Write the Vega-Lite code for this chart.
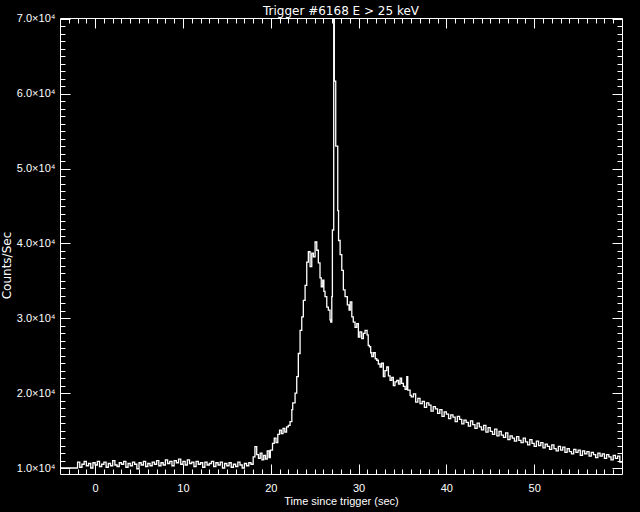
{
"$schema": "https://vega.github.io/schema/vega-lite/v6.json",
"width": 562, "height": 456,
"autosize": {"type": "none"},
"padding": {"left": 60, "top": 18, "right": 18, "bottom": 38},
"background": "black",
"title": {"text": "Trigger #6168 E > 25 keV", "color": "white", "font": "DejaVu Sans", "fontSize": 12, "fontWeight": "normal", "anchor": "middle", "offset": 4, "dy": 9},
"config": {"view": {"stroke": "white", "strokeWidth": 1}, "axis": {"grid": false, "domain": false, "tickColor": "white", "labelColor": "white", "titleColor": "white", "labelFont": "Liberation Sans", "titleFont": "Liberation Sans", "labelFontSize": 11, "titleFontSize": 11, "titleFontWeight": "normal", "tickWidth": 1}},
"data": {"values": [
{"t":-4,"c":10000},{"t":-2.0,"c":10800},{"t":-1.75,"c":10100},{"t":-1.5,"c":10500},{"t":-1.25,"c":10900},{"t":-1.0,"c":10300},{"t":-0.75,"c":10600},{"t":-0.5,"c":10000},{"t":-0.25,"c":10700},
{"t":0,"c":10400},{"t":0.25,"c":10900},{"t":0.5,"c":10200},{"t":0.75,"c":10500},{"t":1.0,"c":10800},{"t":1.25,"c":10100},{"t":1.5,"c":10600},{"t":1.75,"c":10300},
{"t":2.0,"c":11000},{"t":2.25,"c":10400},{"t":2.5,"c":10200},{"t":2.75,"c":10700},{"t":3.0,"c":10500},{"t":3.25,"c":10900},{"t":3.5,"c":10100},{"t":3.75,"c":10600},
{"t":4.0,"c":10300},{"t":4.25,"c":10800},{"t":4.5,"c":10500},{"t":4.75,"c":9900},{"t":5.0,"c":10700},{"t":5.25,"c":10400},{"t":5.5,"c":10900},{"t":5.75,"c":10200},
{"t":6.0,"c":10600},{"t":6.25,"c":10300},{"t":6.5,"c":10800},{"t":6.75,"c":10500},{"t":7.0,"c":11000},{"t":7.25,"c":10300},{"t":7.5,"c":10700},{"t":7.75,"c":10400},
{"t":8.0,"c":11100},{"t":8.25,"c":10600},{"t":8.5,"c":10900},{"t":8.75,"c":10300},{"t":9.0,"c":11000},{"t":9.25,"c":10700},{"t":9.5,"c":11200},{"t":9.75,"c":10500},
{"t":10.0,"c":10900},{"t":10.25,"c":10400},{"t":10.5,"c":11100},{"t":10.75,"c":10600},{"t":11.0,"c":10800},{"t":11.25,"c":10200},{"t":11.5,"c":10900},{"t":11.75,"c":10500},
{"t":12.0,"c":10700},{"t":12.25,"c":10100},{"t":12.5,"c":10800},{"t":12.75,"c":10400},{"t":13.0,"c":10600},{"t":13.25,"c":10900},{"t":13.5,"c":10200},{"t":13.75,"c":10700},
{"t":14.0,"c":10400},{"t":14.25,"c":10800},{"t":14.5,"c":10000},{"t":14.75,"c":10600},{"t":15.0,"c":10300},{"t":15.25,"c":10700},{"t":15.5,"c":10100},{"t":15.75,"c":10500},
{"t":16.0,"c":10200},{"t":16.25,"c":10800},{"t":16.5,"c":10400},{"t":16.75,"c":10000},{"t":17.0,"c":10600},{"t":17.25,"c":10300},{"t":17.5,"c":10700},{"t":17.75,"c":10500},
{"t":18.0,"c":11500},{"t":18.2,"c":12850},{"t":18.4,"c":11800},{"t":18.6,"c":11300},{"t":18.8,"c":12000},{"t":19.0,"c":11100},{"t":19.2,"c":11700},{"t":19.4,"c":11200},
{"t":19.6,"c":12300},{"t":19.8,"c":11400},{"t":19.95,"c":12400},{"t":20.2,"c":13300},{"t":20.4,"c":14000},{"t":20.6,"c":13400},{"t":20.8,"c":14500},{"t":21.0,"c":15050},
{"t":21.2,"c":14600},{"t":21.4,"c":15300},{"t":21.6,"c":14800},{"t":21.8,"c":15500},{"t":22.0,"c":15700},{"t":22.2,"c":16200},{"t":22.4,"c":17800},{"t":22.5,"c":18700},
{"t":22.77,"c":20000},{"t":22.96,"c":22200},{"t":23.14,"c":25300},{"t":23.34,"c":28400},{"t":23.53,"c":30200},{"t":23.71,"c":32400},{"t":23.91,"c":34400},{"t":24.1,"c":37500},
{"t":24.28,"c":38900},{"t":24.48,"c":36900},{"t":24.67,"c":38700},{"t":24.85,"c":38200},{"t":25.05,"c":40200},{"t":25.24,"c":39100},{"t":25.42,"c":37400},{"t":25.61,"c":35400},
{"t":25.75,"c":34200},{"t":25.92,"c":35100},{"t":26.05,"c":33600},{"t":26.18,"c":32900},{"t":26.38,"c":31500},{"t":26.56,"c":31100},{"t":26.75,"c":29800},{"t":26.83,"c":29500},
{"t":26.95,"c":32900},{"t":27.02,"c":41800},{"t":27.17,"c":70130},{"t":27.24,"c":61700},{"t":27.4,"c":53000},{"t":27.63,"c":44400},{"t":27.72,"c":40400},{"t":27.9,"c":38500},
{"t":28.09,"c":36400},{"t":28.27,"c":33800},{"t":28.46,"c":32900},{"t":28.72,"c":31800},{"t":28.92,"c":31100},{"t":29.05,"c":32200},{"t":29.23,"c":30200},{"t":29.4,"c":29500},
{"t":29.6,"c":28800},{"t":29.8,"c":29300},{"t":29.98,"c":27500},{"t":30.15,"c":28200},{"t":30.36,"c":27300},{"t":30.55,"c":28000},{"t":30.74,"c":28400},{"t":30.97,"c":27800},
{"t":31.1,"c":26400},{"t":31.23,"c":26200},{"t":31.38,"c":25400},{"t":31.5,"c":24900},{"t":31.7,"c":25400},{"t":31.9,"c":24600},{"t":32.07,"c":24400},{"t":32.25,"c":23900},
{"t":32.45,"c":23500},{"t":32.62,"c":24000},{"t":32.82,"c":22200},{"t":33.0,"c":23000},{"t":33.21,"c":23500},{"t":33.4,"c":22300},{"t":33.59,"c":21700},{"t":33.78,"c":22100},
{"t":33.96,"c":21000},{"t":34.15,"c":21500},{"t":34.35,"c":21700},{"t":34.55,"c":21200},{"t":34.73,"c":22000},{"t":34.9,"c":21300},{"t":35.1,"c":20900},{"t":35.3,"c":20500},
{"t":35.49,"c":22200},{"t":35.6,"c":20400},{"t":35.87,"c":19700},
{"t":36.0,"c":19500},{"t":36.25,"c":19900},{"t":36.5,"c":18800},{"t":36.75,"c":19300},{"t":37.0,"c":18600},{"t":37.25,"c":18900},{"t":37.5,"c":18100},{"t":37.75,"c":18700},
{"t":38.0,"c":18400},{"t":38.25,"c":17600},{"t":38.5,"c":18200},{"t":38.75,"c":17900},{"t":39.0,"c":17300},{"t":39.25,"c":17800},{"t":39.5,"c":16900},{"t":39.75,"c":17500},
{"t":40.0,"c":17200},{"t":40.25,"c":16600},{"t":40.5,"c":17100},{"t":40.75,"c":16800},{"t":41.0,"c":16200},{"t":41.25,"c":16900},{"t":41.5,"c":16500},{"t":41.75,"c":15900},
{"t":42.0,"c":16400},{"t":42.25,"c":16100},{"t":42.5,"c":15600},{"t":42.75,"c":16300},{"t":43.0,"c":15800},{"t":43.25,"c":15300},{"t":43.5,"c":16000},{"t":43.75,"c":15500},
{"t":44.0,"c":15100},{"t":44.25,"c":15700},{"t":44.5,"c":14800},{"t":44.75,"c":15400},{"t":45.0,"c":14900},{"t":45.25,"c":14500},{"t":45.5,"c":15200},{"t":45.75,"c":14300},
{"t":46.0,"c":14900},{"t":46.25,"c":14400},{"t":46.5,"c":14100},{"t":46.75,"c":14700},{"t":47.0,"c":13800},{"t":47.25,"c":14300},{"t":47.5,"c":14000},{"t":47.75,"c":13600},
{"t":48.0,"c":14200},{"t":48.25,"c":13700},{"t":48.5,"c":13400},{"t":48.75,"c":14000},{"t":49.0,"c":13500},{"t":49.25,"c":13100},{"t":49.5,"c":13800},{"t":49.75,"c":13300},
{"t":50.0,"c":12900},{"t":50.25,"c":13600},{"t":50.5,"c":13000},{"t":50.75,"c":13400},{"t":51.0,"c":12700},{"t":51.25,"c":13200},{"t":51.5,"c":12900},{"t":51.75,"c":12500},
{"t":52.0,"c":13100},{"t":52.25,"c":12600},{"t":52.5,"c":12300},{"t":52.75,"c":12900},{"t":53.0,"c":12400},{"t":53.25,"c":12800},{"t":53.5,"c":12100},{"t":53.75,"c":12600},
{"t":54.0,"c":12200},{"t":54.25,"c":11900},{"t":54.5,"c":12500},{"t":54.75,"c":12100},{"t":55.0,"c":12400},{"t":55.25,"c":11700},{"t":55.5,"c":12300},{"t":55.75,"c":11900},
{"t":56.0,"c":12200},{"t":56.25,"c":11600},{"t":56.5,"c":12100},{"t":56.75,"c":11800},{"t":57.0,"c":11400},{"t":57.25,"c":12000},{"t":57.5,"c":11600},{"t":57.75,"c":11900},
{"t":58.0,"c":11300},{"t":58.25,"c":11800},{"t":58.5,"c":11500},{"t":58.75,"c":11100},{"t":59.0,"c":11700},{"t":59.25,"c":11300},{"t":59.5,"c":11600},{"t":59.75,"c":10800},{"t":60.0,"c":10800}
]},
"layer": [
{"mark": {"type": "line", "color": "white", "strokeWidth": 1.3, "interpolate": "step-after", "clip": true},
 "encoding": {
  "x": {"field": "t", "type": "quantitative", "scale": {"domain": [-4, 60], "nice": false, "zero": false},
        "axis": {"orient": "bottom", "values": [0,10,20,30,40,50], "tickSize": -10, "labelPadding": 18, "labelFlush": false, "labelOverlap": false, "title": "Time since trigger (sec)", "titlePadding": 2}},
  "y": {"field": "c", "type": "quantitative", "scale": {"domain": [9200, 70130], "nice": false, "zero": false},
        "axis": {"orient": "left", "values": [10000,20000,30000,40000,50000,60000,70000], "tickSize": -10, "labelPadding": 15, "labelFlush": false, "labelOverlap": false,
                 "labelExpr": "format(datum.value/10000, '.1f') + '×10⁴'", "title": "Counts/Sec", "titleFont": "DejaVu Sans", "titleFontSize": 12, "titleX": -54, "titleY": 247, "titleAngle": 270, "titleAlign": "center", "titleBaseline": "middle"}}
 }},
{"mark": {"type": "line", "strokeOpacity": 0},
 "encoding": {
  "x": {"field": "t", "type": "quantitative", "axis": {"orient": "bottom", "values": [-3,-2,-1,0,1,2,3,4,5,6,7,8,9,10,11,12,13,14,15,16,17,18,19,20,21,22,23,24,25,26,27,28,29,30,31,32,33,34,35,36,37,38,39,40,41,42,43,44,45,46,47,48,49,50,51,52,53,54,55,56,57,58,59], "tickSize": -5, "labels": false, "title": null}},
  "y": {"field": "c", "type": "quantitative", "axis": {"orient": "left", "values": [10000,11000,12000,13000,14000,15000,16000,17000,18000,19000,20000,21000,22000,23000,24000,25000,26000,27000,28000,29000,30000,31000,32000,33000,34000,35000,36000,37000,38000,39000,40000,41000,42000,43000,44000,45000,46000,47000,48000,49000,50000,51000,52000,53000,54000,55000,56000,57000,58000,59000,60000,61000,62000,63000,64000,65000,66000,67000,68000,69000,70000], "tickSize": -5, "labels": false, "title": null}}
 }},
{"mark": {"type": "line", "strokeOpacity": 0},
 "encoding": {
  "x": {"field": "t", "type": "quantitative", "axis": {"orient": "top", "values": [0,10,20,30,40,50], "tickSize": -10, "labels": false, "title": null}},
  "y": {"field": "c", "type": "quantitative", "axis": {"orient": "right", "values": [10000,20000,30000,40000,50000,60000,70000], "tickSize": -10, "labels": false, "title": null}}
 }},
{"mark": {"type": "line", "strokeOpacity": 0},
 "encoding": {
  "x": {"field": "t", "type": "quantitative", "axis": {"orient": "top", "values": [-3,-2,-1,0,1,2,3,4,5,6,7,8,9,10,11,12,13,14,15,16,17,18,19,20,21,22,23,24,25,26,27,28,29,30,31,32,33,34,35,36,37,38,39,40,41,42,43,44,45,46,47,48,49,50,51,52,53,54,55,56,57,58,59], "tickSize": -5, "labels": false, "title": null}},
  "y": {"field": "c", "type": "quantitative", "axis": {"orient": "right", "values": [10000,11000,12000,13000,14000,15000,16000,17000,18000,19000,20000,21000,22000,23000,24000,25000,26000,27000,28000,29000,30000,31000,32000,33000,34000,35000,36000,37000,38000,39000,40000,41000,42000,43000,44000,45000,46000,47000,48000,49000,50000,51000,52000,53000,54000,55000,56000,57000,58000,59000,60000,61000,62000,63000,64000,65000,66000,67000,68000,69000,70000], "tickSize": -5, "labels": false, "title": null}}
 }}
],
"resolve": {"axis": {"x": "independent", "y": "independent"}}
}
